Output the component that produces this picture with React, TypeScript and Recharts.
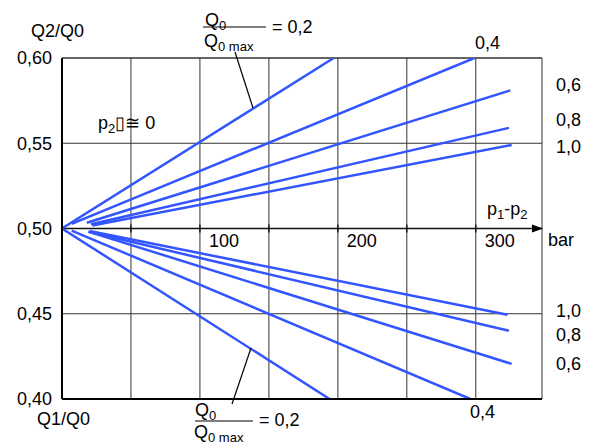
import { LineChart, Line, XAxis, YAxis, CartesianGrid, ReferenceLine, ReferenceDot } from "recharts";

// Q0/Q0max ratio of each curve pair
const ratios = ["0,2", "0,4", "0,6", "0,8", "1,0"];

// upper family (Q2/Q0): start and end pressure difference (bar) and ratio values
const upperP = [[0, 197], [7, 299], [18, 325], [21, 324], [22, 326]];
const upperQ = [[0.5, 0.6], [0.5027, 0.6], [0.5034, 0.581], [0.5025, 0.559], [0.5018, 0.549]];

// lower family (Q1/Q0)
const lowerP = [[0, 194], [7, 296], [19, 326], [20, 324], [20, 323]];
const lowerQ = [[0.5, 0.4], [0.4988, 0.4], [0.4982, 0.4206], [0.498, 0.44], [0.4985, 0.4494]];

const xTicks = [0, 50, 100, 150, 200, 250, 300, 348];
const yTicks = [0.4, 0.45, 0.5, 0.55, 0.6];
const xLabels = [100, 200, 300];

const blue = "#3355ff";
const grid = "#333";
const font = "'Liberation Sans', Arial, sans-serif";
const fs = 18;
const sub = 13;

const toSeries = (p: number[][], q: number[][]) =>
  p.map((pp, i) => pp.map((x, j) => ({ p: x, q: q[i][j] })));

const upper = toSeries(upperP, upperQ);
const lower = toSeries(lowerP, lowerQ);

const Arrow = (props: any) => {
  const vb = props.viewBox || {};
  const x = vb.x + vb.width + 1;
  const y = vb.y;
  return <polygon points={`${x - 11},${y - 4} ${x},${y} ${x - 11},${y + 4}`} fill="#000" />;
};

const Q0 = ({ x, y, s }: { x: number; y: number; s: string }) => (
  <text x={x} y={y} fontSize={fs} fontFamily={font} fill="#000">
    Q<tspan fontSize={sub} dy={4}>{s}</tspan>
  </text>
);

const App = () => (
  <div style={{ position: "absolute", left: 0, top: 0, width: 591, height: 444, background: "#fff" }}>
    <LineChart width={591} height={444} margin={{ top: 58, right: 49, bottom: 44, left: 0 }}>
      <CartesianGrid stroke={grid} strokeWidth={1} vertical={false} />
      <XAxis
        type="number"
        dataKey="p"
        domain={[0, 348]}
        ticks={xTicks}
        tick={false}
        tickLine={false}
        height={1}
        allowDataOverflow
        axisLine={{ stroke: "#000", strokeWidth: 2 }}
      />
      <YAxis
        type="number"
        domain={[0.4, 0.6]}
        ticks={yTicks}
        width={62}
        tickLine={false}
        tickSize={0}
        tickMargin={10}
        allowDataOverflow
        axisLine={{ stroke: "#000", strokeWidth: 2 }}
        tick={{ fill: "#000", fontSize: fs, fontFamily: font }}
        tickFormatter={(v: number) => v.toFixed(2).replace(".", ",")}
      />
      {xTicks.slice(1).map((t) => (
        <ReferenceLine key={"g" + t} x={t} stroke={grid} strokeWidth={1} />
      ))}
      <ReferenceLine y={0.6} stroke={grid} strokeWidth={1} />
      <ReferenceLine y={0.5} stroke="#111" strokeWidth={1.5} label={<Arrow />} />
      {xTicks.slice(1, 7).map((t) => (
        <ReferenceDot
          key={"t" + t}
          x={t}
          y={0.5}
          r={0}
          shape={(pr: any) => <line x1={pr.cx} x2={pr.cx} y1={pr.cy - 4} y2={pr.cy + 4} stroke="#000" strokeWidth={1.2} />}
        />
      ))}
      {xLabels.map((t) => (
        <ReferenceDot
          key={"l" + t}
          x={t}
          y={0.5}
          r={0}
          shape={(pr: any) => (
            <text x={pr.cx + 24} y={pr.cy + 18} textAnchor="middle" fontSize={fs} fontFamily={font} fill="#000">
              {t}
            </text>
          )}
        />
      ))}
      {upper.map((d, i) => (
        <Line
          key={"u" + ratios[i]}
          data={d}
          dataKey="q"
          type="linear"
          stroke={blue}
          strokeWidth={2.5}
          dot={false}
          isAnimationActive={false}
        />
      ))}
      {lower.map((d, i) => (
        <Line
          key={"d" + ratios[i]}
          data={d}
          dataKey="q"
          type="linear"
          stroke={blue}
          strokeWidth={2.5}
          dot={false}
          isAnimationActive={false}
        />
      ))}
    </LineChart>
    <svg
      width={591}
      height={444}
      style={{ position: "absolute", left: 0, top: 0, pointerEvents: "none" }}
      fontFamily={font}
      fontSize={fs}
    >
      <text x={31} y={37}>Q2/Q0</text>
      <text x={37} y={425}>Q1/Q0</text>
      <text x={98} y={129}>
        p<tspan fontSize={sub} dy={4}>2</tspan>
        <tspan dy={-4}>▯≅ 0</tspan>
      </text>

      {/* top fraction */}
      <Q0 x={205} y={26} s="0" />
      <line x1={203} x2={266} y1={27} y2={27} stroke="#000" strokeWidth={1} />
      <text x={272} y={33}>= {ratios[0]}</text>
      <Q0 x={204} y={47} s="0 max" />
      <line x1={235} y1={52} x2={253} y2={108} stroke="#000" strokeWidth={1.2} />

      {/* bottom fraction */}
      <Q0 x={195} y={416} s="0" />
      <line x1={195} x2={253} y1={421} y2={421} stroke="#000" strokeWidth={1} />
      <text x={259} y={426}>= {ratios[0]}</text>
      <Q0 x={194} y={438} s="0 max" />
      <line x1={232} y1={404} x2={251} y2={348} stroke="#000" strokeWidth={1.2} />

      <text x={475} y={49}>{ratios[1]}</text>
      <text x={470} y={418}>{ratios[1]}</text>

      <text x={556} y={91}>{ratios[2]}</text>
      <text x={556} y={126}>{ratios[3]}</text>
      <text x={556} y={153}>{ratios[4]}</text>
      <text x={556} y={317}>{ratios[4]}</text>
      <text x={556} y={341}>{ratios[3]}</text>
      <text x={556} y={370}>{ratios[2]}</text>

      <text x={487} y={215}>
        p<tspan fontSize={sub} dy={4}>1</tspan>
        <tspan dy={-4}>-p</tspan>
        <tspan fontSize={sub} dy={4}>2</tspan>
      </text>
      <text x={548} y={246}>bar</text>
    </svg>
  </div>
);

export default App;
